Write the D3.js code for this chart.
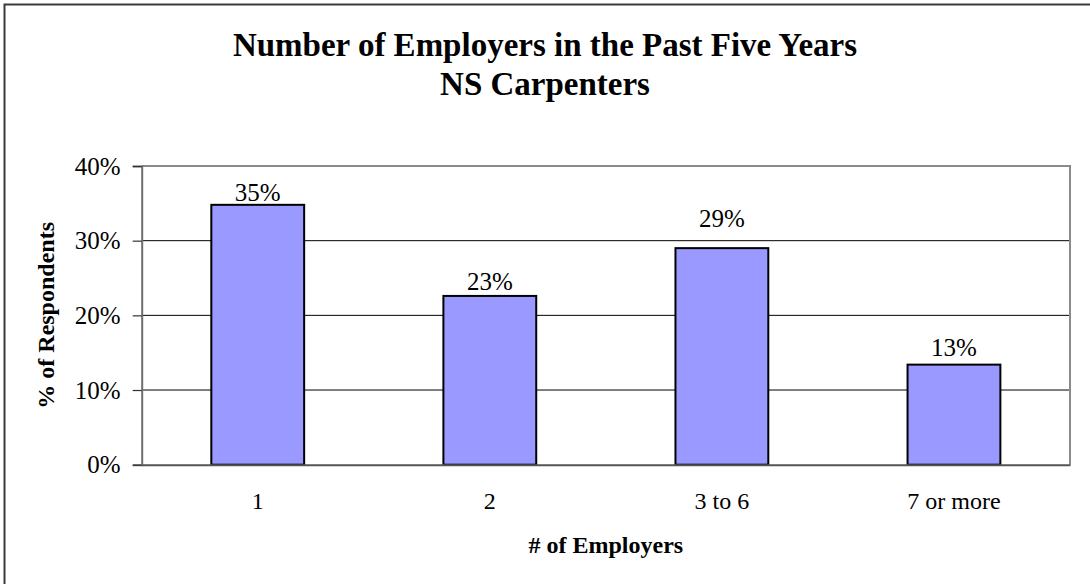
<!DOCTYPE html>
<html>
<head>
<meta charset="utf-8">
<script src="https://cdn.jsdelivr.net/npm/d3@7"></script>
<style>
  html, body { margin: 0; padding: 0; background: #fff; }
  svg { display: block; font-family: "Liberation Serif", "Times New Roman", serif; }
</style>
</head>
<body>
<svg id="chart" width="1090" height="584"></svg>
<script>
// Survey results: number of employers in the past five years
const categories = ["1", "2", "3 to 6", "7 or more"];
const respondentShare = [0.348, 0.226, 0.290, 0.134];
const yTickValues = [0, 0.1, 0.2, 0.3, 0.4];
const titleLines = ["Number of Employers in the Past Five Years", "NS Carpenters"];
const xAxisTitle = "# of Employers";
const yAxisTitle = "% of Respondents";

// Extra lift of each value label above its bar, in px
const labelLift = [4, 6, 21, 9];

const svg = d3.select("#chart");
const W = 1090, H = 584;
const plot = { left: 141.7, right: 1070, top: 166, bottom: 464.7 };

// Outer chart frame (runs off the right and bottom edges)
svg.append("rect")
  .attr("x", 4.5).attr("y", 4.5)
  .attr("width", W + 20).attr("height", H + 20)
  .attr("fill", "#fff")
  .attr("stroke", "#3a3a3a")
  .attr("stroke-width", 2);

const x = d3.scaleBand()
  .domain(categories)
  .range([plot.left, plot.right])
  .paddingInner(0.6)
  .paddingOuter(0.3);

const y = d3.scaleLinear()
  .domain([0, 0.4])
  .range([plot.bottom, plot.top]);

// Gridlines
svg.append("g")
  .selectAll("line")
  .data(yTickValues.filter(v => v > 0 && v < 0.4))
  .join("line")
  .attr("x1", plot.left).attr("x2", plot.right)
  .attr("y1", d => y(d)).attr("y2", d => y(d))
  .attr("stroke", "#000")
  .attr("stroke-width", 1);

// Plot area border (top and right)
svg.append("path")
  .attr("d", `M${plot.left},${plot.top}H${plot.right}V${plot.bottom}`)
  .attr("fill", "none")
  .attr("stroke", "#8a8a8a")
  .attr("stroke-width", 2);

// Y axis
const yAxis = d3.axisLeft(y)
  .tickValues(yTickValues)
  .tickFormat(d3.format(".0%"))
  .tickSize(9)
  .tickPadding(12);

const gy = svg.append("g")
  .attr("transform", `translate(${plot.left},0)`)
  .call(yAxis);
gy.select(".domain").attr("stroke", "#6e6e6e").attr("stroke-width", 2);
gy.selectAll(".tick line").attr("stroke", "#333").attr("stroke-width", 1.2);
gy.selectAll(".tick text")
  .attr("fill", "#000")
  .style("font-family", "'Liberation Serif', 'Times New Roman', serif")
  .style("font-size", "25px");

// Bars
svg.append("g")
  .selectAll("rect")
  .data(respondentShare)
  .join("rect")
  .attr("x", (d, i) => x(categories[i]))
  .attr("y", d => y(d))
  .attr("width", x.bandwidth())
  .attr("height", d => y(0) - y(d))
  .attr("fill", "#9999ff")
  .attr("stroke", "#000")
  .attr("stroke-width", 2);

// X axis (baseline, no tick marks)
const xAxis = d3.axisBottom(x).tickSize(0).tickPadding(27);
const gx = svg.append("g")
  .attr("transform", `translate(0,${plot.bottom})`)
  .call(xAxis);
gx.select(".domain").attr("stroke", "#555").attr("stroke-width", 2);
gx.selectAll(".tick text")
  .attr("fill", "#000")
  .style("font-family", "'Liberation Serif', 'Times New Roman', serif")
  .style("font-size", "24px");

// Value labels
svg.append("g")
  .selectAll("text")
  .data(respondentShare)
  .join("text")
  .attr("x", (d, i) => x(categories[i]) + x.bandwidth() / 2)
  .attr("y", (d, i) => y(d) - labelLift[i])
  .attr("text-anchor", "middle")
  .attr("font-size", 25)
  .attr("fill", "#000")
  .text(d => d3.format(".0%")(d));

// Title, centred on the chart frame
svg.append("g")
  .selectAll("text")
  .data(titleLines)
  .join("text")
  .attr("x", W / 2)
  .attr("y", (d, i) => 56 + i * 39)
  .attr("text-anchor", "middle")
  .attr("font-size", 33)
  .attr("font-weight", "bold")
  .attr("fill", "#000")
  .text(d => d);

// Axis titles
svg.append("text")
  .attr("x", (plot.left + plot.right) / 2)
  .attr("y", 553)
  .attr("text-anchor", "middle")
  .attr("font-size", 24)
  .attr("font-weight", "bold")
  .text(xAxisTitle);

svg.append("text")
  .attr("transform", `translate(54,${(plot.top + plot.bottom) / 2}) rotate(-90)`)
  .attr("text-anchor", "middle")
  .attr("font-size", 24)
  .attr("font-weight", "bold")
  .text(yAxisTitle);
</script>
</body>
</html>
